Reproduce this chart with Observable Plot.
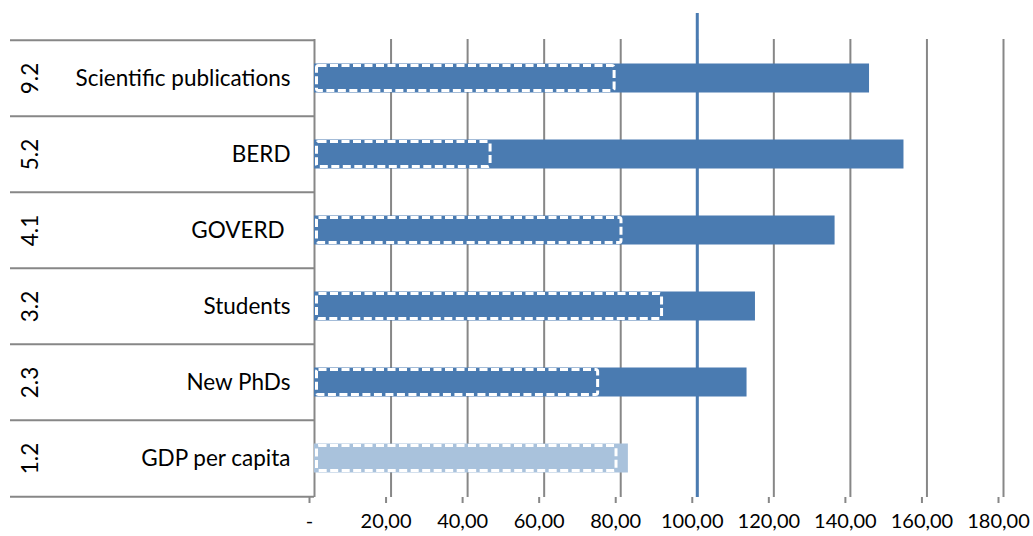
<!DOCTYPE html>
<html>
<head>
<meta charset="utf-8">
<script src="https://cdn.jsdelivr.net/npm/d3@7"></script>
<script src="https://cdn.jsdelivr.net/npm/@observablehq/plot@0.6"></script>
<style>
  html, body { margin: 0; padding: 0; background: #fff; }
</style>
</head>
<body>
<div id="chart"></div>
<script>
// Indicator rows, top to bottom
const categories = ["Scientific publications", "BERD", "GOVERD\u00a0", "Students", "New PhDs", "GDP per capita"];
const codes = ["9.2", "5.2", "4.1", "3.2", "2.3", "1.2"];
// Current value (solid bar) and reference value (dashed outline)
const totals = [145, 154, 136, 115.2, 113, 82];
const dashedValues = [78.4, 46, 80.2, 90.8, 74.1, 78.9];
const barColors = ["#4a7bb1", "#4a7bb1", "#4a7bb1", "#4a7bb1", "#4a7bb1", "#a9c2dc"];
const xTicks = [0, 20, 40, 60, 80, 100, 120, 140, 160, 180];

const rows = categories.map((name, i) => ({
  name, code: codes[i], total: totals[i], dashed: dashedValues[i], color: barColors[i]
}));

const W = 1033, H = 536;
const margin = {top: 39, right: 30, bottom: 39, left: 314};
const tableLeft = 10;
const bandH = (H - margin.top - margin.bottom) / categories.length;

const xs = Plot.scale({x: {domain: [0, 180], range: [margin.left, W - margin.right]}});
const tableStart = xs.invert(tableLeft);

const grey = "#878787";

const chart = Plot.plot({
  width: W,
  height: H,
  marginTop: margin.top,
  marginRight: margin.right,
  marginBottom: margin.bottom,
  marginLeft: margin.left,
  style: {fontFamily: "Lato, 'Open Sans', sans-serif", fontSize: "20px", color: "#000", background: "#fff"},
  x: {domain: [0, 180], axis: null},
  y: {domain: categories, padding: 0, axis: null},
  marks: [
    // table row separators on the left
    Plot.ruleY(categories, {y: d => d, dy: -bandH / 2, x1: tableStart, x2: 0, stroke: grey, strokeWidth: 2}),
    Plot.ruleY(categories.slice(-1), {y: d => d, dy: bandH / 2, x1: tableStart, x2: 0, stroke: grey, strokeWidth: 2}),
    // vertical gridlines
    Plot.ruleX(xTicks, {stroke: grey, strokeWidth: 2}),
    // x axis ticks and labels
    Plot.axisX(xTicks, {
      tickSize: 6,
      tickPadding: 10,
      stroke: grey,
      strokeWidth: 2,
      fill: "#000",
      fontSize: 20,
      dx: -5,
      tickFormat: d => d === 0 ? "-" : d3.format(".2f")(d).replace(".", ",")
    }),
    // reference line at 100
    Plot.ruleX([100], {stroke: "#4a7bb1", strokeWidth: 3, insetTop: -26}),
    // solid bars
    Plot.barX(rows, {y: "name", x1: 0, x2: "total", fill: "color", insetTop: 23.5, insetBottom: 23.5}),
    // dashed outlines
    Plot.barX(rows, {
      y: "name", x1: 0, x2: "dashed",
      insetLeft: 2.5, insetTop: 25.5, insetBottom: 25.5,
      fill: "none", stroke: "#fff", strokeWidth: 3, strokeDasharray: "8,3.5", rx: 2
    }),
    // indicator names
    Plot.text(rows, {y: "name", text: "name", frameAnchor: "left", dx: -24, textAnchor: "end", fontSize: 22.5, fill: "#000"}),
    // indicator codes (rotated)
    Plot.text(rows, {y: "name", text: "code", frameAnchor: "left", dx: -284, textAnchor: "middle", rotate: -90, fontSize: 22.5, fill: "#000"})
  ]
});

document.getElementById("chart").appendChild(chart);
</script>
</body>
</html>
